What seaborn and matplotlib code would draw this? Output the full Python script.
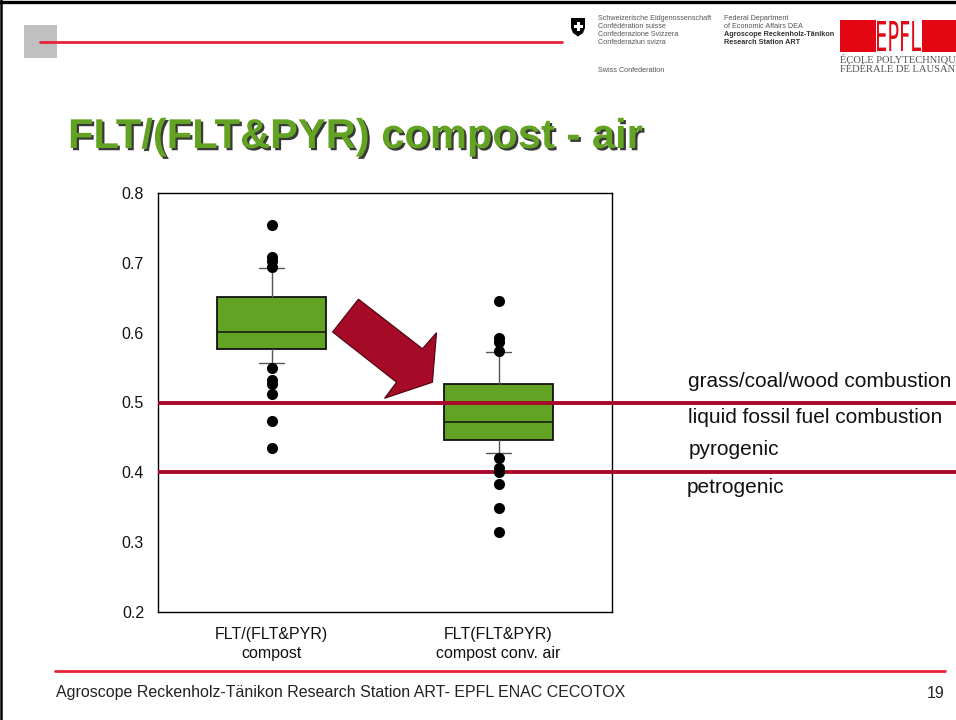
import matplotlib
matplotlib.use("Agg")
import matplotlib.pyplot as plt
import matplotlib.patheffects as pe
from matplotlib.patches import Polygon, Rectangle, PathPatch
from matplotlib.lines import Line2D
from matplotlib.textpath import TextPath
from matplotlib.font_manager import FontProperties
from matplotlib.transforms import Affine2D
import numpy as np
import pandas as pd
import seaborn as sns

# ---- data -------------------------------------------------------------
categories = ["FLT/(FLT&PYR)\ncompost", "FLT(FLT&PYR)\ncompost conv. air"]
q1 = [0.577, 0.447]
median = [0.601, 0.472]
q3 = [0.651, 0.526]
whisker_low = [0.556, 0.428]
whisker_high = [0.693, 0.573]
outliers_compost = [0.754, 0.709, 0.703, 0.694, 0.550, 0.532, 0.527, 0.512, 0.473, 0.435]
outliers_air = [0.645, 0.592, 0.586, 0.574, 0.421, 0.406, 0.400, 0.384, 0.349, 0.314]
thresholds = [0.5, 0.4]
yticks = [0.2, 0.3, 0.4, 0.5, 0.6, 0.7, 0.8]
source_labels = ["grass/coal/wood combustion", "liquid fossil fuel combustion",
                 "pyrogenic", "petrogenic"]
title = "FLT/(FLT&PYR) compost - air"
footer = "Agroscope Reckenholz-Tänikon Research Station ART- EPFL ENAC CECOTOX"
page_number = "19"
swiss_lines = ["Schweizerische Eidgenossenschaft", "Confédération suisse",
               "Confederazione Svizzera", "Confederaziun svizra"]
swiss_english = "Swiss Confederation"
dept_lines = ["Federal Department", "of Economic Affairs DEA"]
station_lines = ["Agroscope Reckenholz-Tänikon", "Research Station ART"]
epfl_lines = ["ÉCOLE POLYTECHNIQUE", "FÉDÉRALE DE LAUSANNE"]

# ---- styling ----------------------------------------------------------
sns.set_theme(style="white")
plt.rcParams["font.family"] = ["Liberation Sans", "DejaVu Sans"]

W, H = 956, 720
GREEN = "#63A323"
CRIMSON = "#A8092B"
BRIGHT_RED = "#E8213A"


def fx(x):
    return x / W


def fy(y):
    return 1 - y / H


fig = plt.figure(figsize=(W / 100, H / 100), dpi=100)
fig.patch.set_facecolor("white")
ax = fig.add_axes([fx(158), fy(612), 454 / W, 419 / H])

# outlier points
flier_df = pd.DataFrame({
    "group": [categories[0]] * len(outliers_compost) + [categories[1]] * len(outliers_air),
    "value": outliers_compost + outliers_air,
})
sns.stripplot(data=flier_df, x="group", y="value", order=categories, jitter=False,
              color="black", size=8, linewidth=0, ax=ax, zorder=5)

# boxes from summary statistics
stats = [dict(label=c, q1=a, med=m, q3=b, whislo=lo, whishi=hi, fliers=[])
         for c, a, m, b, lo, hi in zip(categories, q1, median, q3, whisker_low, whisker_high)]
ax.bxp(stats, positions=[0, 1], widths=0.476, capwidths=0.106, patch_artist=True,
       showfliers=False, manage_ticks=False, zorder=2,
       boxprops=dict(facecolor=GREEN, edgecolor="#111111", linewidth=1.3),
       medianprops=dict(color="#1c2a10", linewidth=1.3),
       whiskerprops=dict(color="#555555", linewidth=1.0),
       capprops=dict(color="#555555", linewidth=1.0))

# source threshold lines running out to the right edge of the slide
for t in thresholds:
    ax.plot([0, 1.8], [t, t], transform=ax.get_yaxis_transform(), color=CRIMSON,
            lw=2.8, clip_on=False, zorder=4, solid_capstyle="butt")

# block arrow between the two groups
arrow_xy = [(0.383, 0.648), (0.269, 0.601), (0.551, 0.529), (0.498, 0.506),
            (0.709, 0.529), (0.727, 0.600), (0.665, 0.577)]
ax.add_patch(Polygon(arrow_xy, closed=True, facecolor="#A50A26", edgecolor="#4a0010",
                     lw=0.8, zorder=3))

ax.set_xlim(-0.5, 1.5)
ax.set_ylim(0.2, 0.8)
ax.set_xticks([0, 1])
ax.set_xticklabels(categories, linespacing=1.3)
ax.set_yticks(yticks)
ax.set_yticklabels([f"{v:.1f}" for v in yticks])
ax.set_xlabel("")
ax.set_ylabel("")
for s in ax.spines.values():
    s.set_visible(True)
    s.set_color("black")
    s.set_linewidth(1.0)
ax.tick_params(axis="both", direction="out", length=5, width=1, color="black",
               labelsize=11.5, labelcolor="#111111")
ax.tick_params(axis="x", pad=6)
ax.tick_params(axis="y", pad=5)

# labels for the threshold bands
label_pos = [(688, 387), (688, 423), (689, 455), (687, 493)]
for text, (x, y) in zip(source_labels, label_pos):
    fig.text(fx(x), fy(y), text, fontsize=15, color="#111111", va="baseline", ha="left")

# ---- slide decoration -------------------------------------------------
fig.text(fx(68), fy(148), title, fontsize=30, fontweight="bold", color=GREEN,
         va="baseline", ha="left",
         path_effects=[pe.SimplePatchShadow(offset=(1.6, -1.6), shadow_rgbFace="#383838",
                                            alpha=1.0), pe.Normal()])

# frame edges
fig.add_artist(Line2D([0, 1], [fy(1.5), fy(1.5)], color="black", lw=2.4))
fig.add_artist(Line2D([fx(1), fx(1)], [0, 1], color="black", lw=1.8))

# header mark and rule
fig.add_artist(Rectangle((fx(24), fy(58)), 33 / W, 33 / H, facecolor="#C0C0C0",
                         edgecolor="none", transform=fig.transFigure))
fig.add_artist(Line2D([fx(40), fx(562)], [fy(42), fy(42)], color=BRIGHT_RED, lw=2.0))

# Swiss shield
shield = [(571, 18), (585, 18), (585, 28), (583, 33), (578, 36.5), (573, 33), (571, 28)]
fig.add_artist(Polygon([(fx(x), fy(y)) for x, y in shield], closed=True,
                       facecolor="black", edgecolor="none", transform=fig.transFigure))
fig.add_artist(Rectangle((fx(576.5), fy(31)), 3 / W, 9 / H, facecolor="white",
                         edgecolor="none", transform=fig.transFigure))
fig.add_artist(Rectangle((fx(573.5), fy(27.5)), 9 / W, 3 / H, facecolor="white",
                         edgecolor="none", transform=fig.transFigure))

rows = [18, 26, 34, 42]
for text, y in zip(swiss_lines, rows):
    fig.text(fx(598), fy(y), text, fontsize=5.2, color="#555555", va="center")
fig.text(fx(598), fy(71), swiss_english, fontsize=5.2, color="#555555", va="center")
for text, y in zip(dept_lines, rows[:2]):
    fig.text(fx(724), fy(y), text, fontsize=5.2, color="#555555", va="center")
for text, y in zip(station_lines, rows[2:]):
    fig.text(fx(724), fy(y), text, fontsize=5.2, color="#333333", va="center",
             fontweight="bold")

# EPFL logo
fig.add_artist(Rectangle((fx(840), fy(52)), 116 / W, 32 / H, facecolor="#E30613",
                         edgecolor="none", transform=fig.transFigure))
fig.add_artist(Rectangle((fx(876), fy(52)), 46 / W, 32 / H, facecolor="white",
                         edgecolor="none", transform=fig.transFigure))
tp = TextPath((0, 0), "EPFL", size=1, prop=FontProperties(family="DejaVu Sans"))
ext = tp.get_extents()
sx = 44 / ext.width
sy = 30 / ext.height
tr = Affine2D().translate(-ext.x0, -ext.y0).scale(sx, sy).translate(877, H - 51)
fig.add_artist(PathPatch(tr.transform_path(tp), facecolor="#E30613", edgecolor="none",
                         transform=None))
for text, y in zip(epfl_lines, [59, 70]):
    fig.text(fx(840), fy(y), text, fontsize=7.6, color="#555555", va="center",
             family=["Liberation Serif", "DejaVu Serif"])

# footer
fig.add_artist(Line2D([fx(55), fx(945)], [fy(671), fy(671)], color=BRIGHT_RED, lw=2.0))
fig.text(fx(56), fy(693), footer, fontsize=11.5, color="#222222", va="center", ha="left")
fig.text(fx(945), fy(693), page_number, fontsize=11.5, color="#222222", va="center",
         ha="right")

fig.savefig("out.png", dpi=100, facecolor="white")
